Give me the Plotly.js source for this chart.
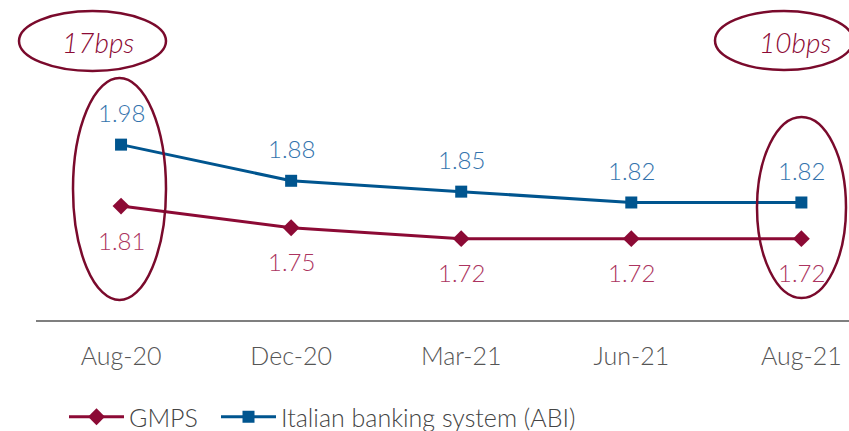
<!DOCTYPE html>
<html><head><meta charset="utf-8">
<script src="https://cdn.plot.ly/plotly-3.0.1.min.js"></script>
<style>html,body{margin:0;padding:0;background:#fff;}#c{width:849px;height:431px;}</style>
</head><body><div id="c"></div>
<script>
const categories = ["Aug-20", "Dec-20", "Mar-21", "Jun-21", "Aug-21"];
const gmps = [1.81, 1.75, 1.72, 1.72, 1.72];
const abi = [1.98, 1.88, 1.85, 1.82, 1.82];
const seriesNames = ["GMPS", "Italian banking system (ABI)"];
const callouts = ["17bps", "10bps"];

const red = "#8C0A35", blue = "#00558F", ring = "#7A0A2C";
const L = 36, W = 813, H = 320;
const px = x => (x - L) / W, py = y => 1 - y / H;

const traces = [
  {x: categories, y: gmps, name: seriesNames[0], type: "scatter", mode: "lines+markers", legend: "legend",
   line: {color: red, width: 3}, marker: {symbol: "diamond", size: 13, color: red}},
  {x: categories, y: abi, name: seriesNames[1], type: "scatter", mode: "lines+markers", legend: "legend2",
   line: {color: blue, width: 3}, marker: {symbol: "square", size: 12, color: blue}}
];

const lblFont = (c) => ({family: "Lato, sans-serif", size: 24, color: c, weight: 300});
const annotations = [];
categories.forEach((c, i) => {
  annotations.push({x: c, y: abi[i], text: abi[i].toFixed(2), showarrow: false, yshift: 32,
    xanchor: "center", yanchor: "middle", font: lblFont("#3473AD")});
  annotations.push({x: c, y: gmps[i], text: gmps[i].toFixed(2), showarrow: false, yshift: -34,
    xanchor: "center", yanchor: "middle", font: lblFont("#AC3460")});
});
const cFont = {family: "Lato, sans-serif", size: 28, color: "#8C0A35", style: "italic", weight: 300};
annotations.push({xref: "paper", yref: "paper", x: px(98), y: py(42), xanchor: "center", yanchor: "middle",
  text: callouts[0], showarrow: false, font: cFont});
annotations.push({xref: "paper", yref: "paper", x: px(795), y: py(42), xanchor: "center", yanchor: "middle",
  text: callouts[1], showarrow: false, font: cFont});

const ell = (x0, y0, x1, y1, w) => ({type: "circle", xref: "paper", yref: "paper",
  x0: px(x0), x1: px(x1), y0: py(y1), y1: py(y0), line: {color: ring, width: w || 2.5}});
const shapes = [
  ell(73, 78, 166, 300),
  ell(757, 117, 846, 298),
  ell(19, 11, 166, 71),
  ell(715, 11, 853, 70)
];

const legFont = {family: "Lato, sans-serif", size: 25, color: "#444", weight: 300};
const layout = {
  width: 849, height: 431,
  margin: {l: L, r: 0, t: 0, b: 111, autoexpand: false},
  paper_bgcolor: "#fff", plot_bgcolor: "#fff",
  showlegend: true,
  legend: {orientation: "h", x: px(64), y: py(417), xanchor: "left", yanchor: "middle", font: legFont, itemwidth: 55},
  legend2: {orientation: "h", x: px(216), y: py(417), xanchor: "left", yanchor: "middle", font: legFont, itemwidth: 55},
  xaxis: {type: "category", range: [-0.5, 4.28], showgrid: false, zeroline: false,
    showline: true, linecolor: "#7F7F7F", linewidth: 2, ticks: "", ticklabelstandoff: 13,
    tickfont: {family: "Lato, sans-serif", size: 25, color: "#555", weight: 300}},
  yaxis: {range: [1.495, 2.38], visible: false, showgrid: false, zeroline: false},
  annotations: annotations,
  shapes: shapes
};
Plotly.newPlot("c", traces, layout, {displayModeBar: false, staticPlot: true});
</script></body></html>
